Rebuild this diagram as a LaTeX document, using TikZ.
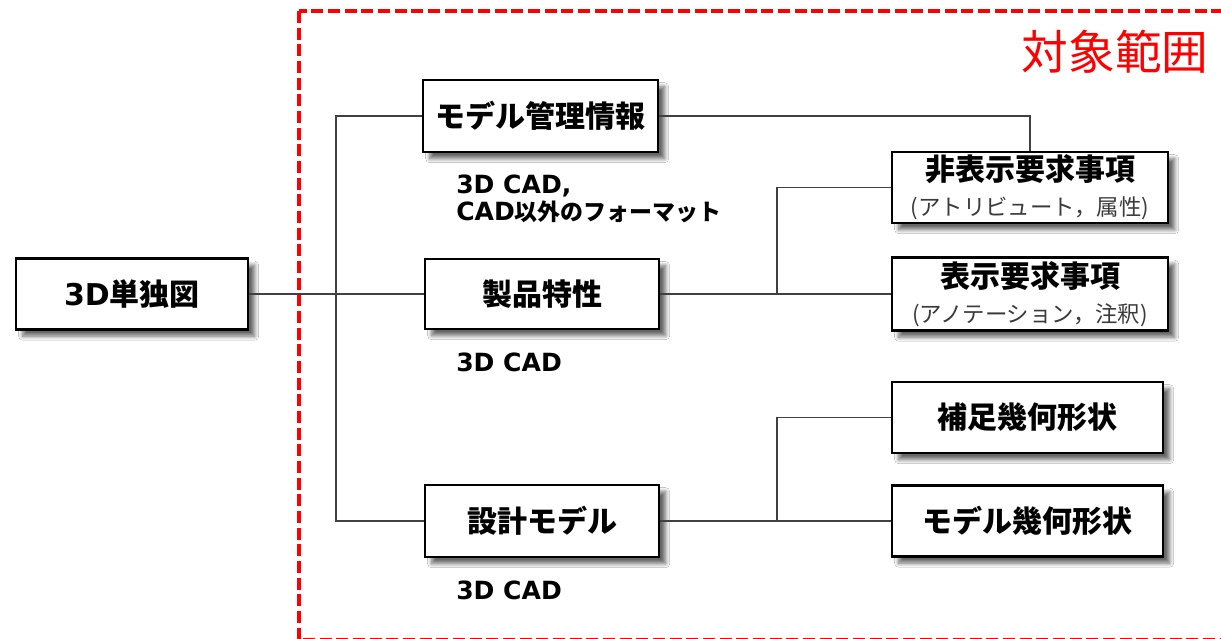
\documentclass[tikz,border=0pt]{standalone}
\usepackage{fontspec}
\usetikzlibrary{shadows.blur}
\newfontfamily\jpf{Noto Sans CJK JP}
\newfontfamily\latf{DejaVu Sans}
\definecolor{linegray}{HTML}{404040}
\definecolor{subgray}{HTML}{3A3A3A}
\definecolor{scopered}{HTML}{FF0000}
\newcommand\tbig{\fontsize{22.5}{26.25}\selectfont\jpf\bfseries}
\newcommand\tsub{\fontsize{16.8}{26.25}\selectfont\jpf\color{subgray}}
\newcommand\tlab{\fontsize{18.8}{20.25}\selectfont\jpf\bfseries}
\newcommand\tlabjp{\fontsize{17.2}{20.25}\selectfont\jpf\bfseries}
\newcommand\tred{\fontsize{35}{40}\selectfont\jpf\color{scopered}}
\newcommand\lt[1]{{\latf\bfseries #1}}
\tikzset{
  box/.style n args={2}{draw=black, line width=1.9pt, fill=white,
    minimum width=#1*0.75pt, minimum height=#2*0.75pt, inner sep=0pt,
    align=center, font=\fontsize{22.5}{26.25}\selectfont,
    blur shadow={shadow xshift=5pt, shadow yshift=-5pt, shadow blur steps=10, shadow blur radius=3pt, shadow opacity=60}},
  conn/.style={draw=linegray, line width=1pt},
  lab/.style={anchor=west, inner sep=0pt, align=left, font=\fontsize{18.8}{20.25}\selectfont},
  scopebox/.style={draw=scopered, line width=3.2pt, dash pattern=on 9pt off 3.5pt}
}
\begin{document}
\begin{tikzpicture}[x=0.75pt, y=-0.75pt]
\useasboundingbox (0,0) rectangle (1221,639);
\clip (0,0) rectangle (1221,639);
\fill[white] (0,0) rectangle (1221,639);

% scope frame
\draw[scopebox] (299,11) rectangle (1240,640.5);
\node[anchor=center, inner sep=0pt] (scopelabel) at (1115,52) {\tred 対象範囲};

% boxes
\node[box={232}{71}] (root) at (132,294) {\tbig\lt{3D}単独図};
\node[box={235}{72}] (mgmt) at (540.5,116) {\tbig モデル管理情報};
\node[box={234}{70}] (prod) at (542,294) {\tbig 製品特性};
\node[box={234}{72}] (design) at (542,521) {\tbig 設計モデル};
\node[box={276}{71}] (hidden) at (1030,187.5) {{\tbig 非表示要求事項}\\{\tsub (アトリビュート，属性)}};
\node[box={276}{73}] (shown) at (1030,294) {{\tbig 表示要求事項}\\{\tsub (アノテーション，注釈)}};
\node[box={271}{71}] (supp) at (1027.5,417.5) {\tbig 補足幾何形状};
\node[box={271}{71}] (modelgeo) at (1027.5,521) {\tbig モデル幾何形状};

% labels
\node[lab] (lab1) at (456,198.5) {\tlab\lt{3D CAD,}\\\tlab\lt{CAD}\tlabjp 以外のフォーマット};
\node[lab] (lab2) at (456,362) {\tlab\lt{3D CAD}};
\node[lab] (lab3) at (456,590) {\tlab\lt{3D CAD}};

% connectors
\coordinate (trunk) at (336,0);
\coordinate (fork) at (777,0);
\draw[conn] (root.east) -- (prod.west);
\draw[conn] (mgmt.west) -| (trunk |- design.west) -- (design.west);
\draw[conn] (mgmt.east) -| (hidden.north);
\draw[conn] (prod.east) -- (shown.west);
\draw[conn] (fork |- prod.east) |- (hidden.west);
\draw[conn] (design.east) -- (modelgeo.west);
\draw[conn] (fork |- design.east) |- (supp.west);
\end{tikzpicture}
\end{document}
